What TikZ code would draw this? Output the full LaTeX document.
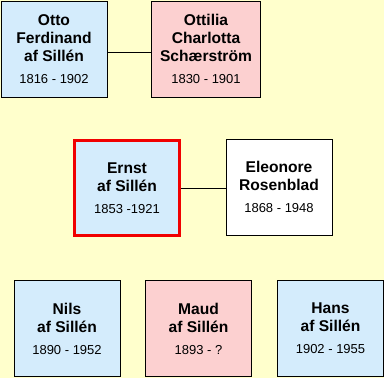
\documentclass[tikz,border=0pt]{standalone}
\usepackage{fontspec}
\setmainfont{Liberation Sans}
\usepackage{xcolor}
\usepackage{tikz}
\usetikzlibrary{positioning}

\definecolor{bgyellow}{HTML}{FFFFCC}
\definecolor{manblue}{HTML}{D4ECFC}
\definecolor{womanpink}{HTML}{FCD0D0}
\definecolor{selfred}{HTML}{F00000}

\newcommand{\dates}[1]{\\[4pt]{\fontsize{13}{15}\selectfont\mdseries #1}}

\begin{document}
\begin{tikzpicture}[
    x=1pt, y=-1pt,
    person/.style={draw, line width=0.8pt, minimum width=106pt, minimum height=96pt, align=center,
      inner sep=0pt, font=\fontsize{15.6}{18}\selectfont\bfseries,
      execute at begin node=\rule{0pt}{18pt}},
    man/.style={person, fill=manblue},
    woman/.style={person, fill=womanpink},
    self/.style={man, draw=selfred, line width=3pt, minimum width=105pt, minimum height=95pt},
    other/.style={person, fill=white},
    link/.style={line width=0.8pt},
]
\fill[bgyellow] (0,0) rectangle (384,378);
\useasboundingbox (0,0) rectangle (384,378);
% parents
\node[man] (otto) at (54,49) {Otto\\Ferdinand\\af Sillén\dates{1816 - 1902}};
\node[woman, minimum width=109pt] (ottilia) at (206,49) {Ottilia\\Charlotta\\Schærström\dates{1830 - 1901}};
% Ernst and wife
\node[self] (ernst) at (127,188) {Ernst\\af Sillén\dates{1853 -1921}};
\node[other] (eleonore) at (279,187) {Eleonore\\Rosenblad\dates{1868 - 1948}};
% children
\node[man] (nils) at (67,328.5) {Nils\\af Sillén\dates{1890 - 1952}};
\node[woman] (maud) at (198.5,328.5) {Maud\\af Sillén\dates{1893 - ?}};
\node[man] (hans) at (330.5,328.5) {Hans\\af Sillén\dates{1902 - 1955}};
\draw[link] ([yshift=-3pt]otto.east) -- ([yshift=-3pt]ottilia.west);
\draw[link] (ernst.east) -- (eleonore.west |- ernst.east);
\end{tikzpicture}
\end{document}
